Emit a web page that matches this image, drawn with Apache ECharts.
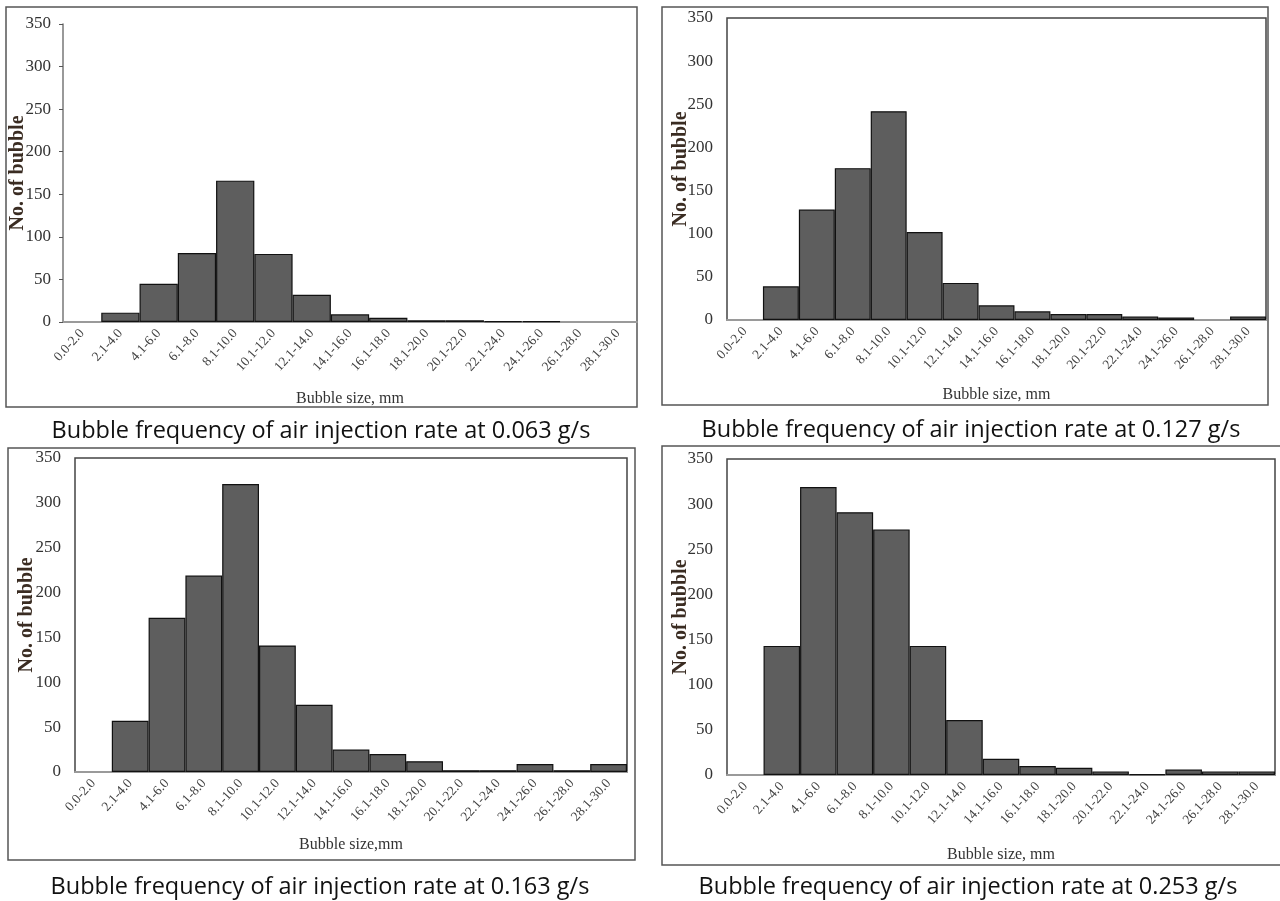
<!DOCTYPE html>
<html>
<head>
<meta charset="utf-8">
<script src="https://cdn.jsdelivr.net/npm/echarts@6/dist/echarts.min.js"></script>
<style>
html,body{margin:0;padding:0;background:#fff;}
#c{width:1280px;height:901px;}
</style>
</head>
<body>
<div id="c"></div>
<script>
const categories = ['0.0-2.0','2.1-4.0','4.1-6.0','6.1-8.0','8.1-10.0','10.1-12.0','12.1-14.0','14.1-16.0','16.1-18.0','18.1-20.0','20.1-22.0','22.1-24.0','24.1-26.0','26.1-28.0','28.1-30.0'];
const rate063 = [0,11,45,81,166,80,32,9,5,2,2,1,1,0,0];
const rate127 = [0,39,128,176,242,102,43,17,10,7,7,4,3,0,4];
const rate163 = [0,57,172,219,321,141,75,25,20,12,2,2,9,2,9];
const rate253 = [0,143,319,291,272,143,61,18,10,8,4,1,6,4,4];
const captions = [
  'Bubble frequency of air injection rate at 0.063 g/s',
  'Bubble frequency of air injection rate at 0.127 g/s',
  'Bubble frequency of air injection rate at 0.163 g/s',
  'Bubble frequency of air injection rate at 0.253 g/s'
];
const xNames = ['Bubble size, mm','Bubble size, mm','Bubble size,mm','Bubble size, mm'];
const yName = 'No. of bubble';
const seriesData = [rate063, rate127, rate163, rate253];

const grids = [
  {left:63, top:24, width:574, height:298, show:false},
  {left:727, top:18, width:539, height:302, show:true, borderColor:'#444', borderWidth:1.5},
  {left:75, top:458, width:552, height:314, show:true, borderColor:'#444', borderWidth:1.5},
  {left:727, top:459, width:548, height:316, show:true, borderColor:'#444', borderWidth:1.5}
];
const xGaps = [69,67,65,72];
const yGaps = [35,36,38,36];
const serif = 'Liberation Serif, Times New Roman, serif';

const xAxes = grids.map((g,i)=>({
  type:'category', gridIndex:i, data:categories, boundaryGap:true,
  axisLine:{show:true, lineStyle:{color:'#9a9a9a', width:2}},
  axisTick:{show:false},
  axisLabel:{interval:0, rotate:48, fontFamily:serif, fontSize:13.5, color:'#444', margin:9},
  name:xNames[i], nameLocation:'middle', nameGap:xGaps[i], nameMoveOverlap:false,
  nameTextStyle:{fontFamily:serif, fontSize:16, color:'#333'}
}));
const yAxes = grids.map((g,i)=>({
  type:'value', gridIndex:i, min:0, max:350, interval:50,
  axisLine:{show:i===0, lineStyle:{color:'#777', width:1.5}},
  axisTick:{show:i===0, length:4, lineStyle:{color:'#555'}},
  splitLine:{show:false},
  axisLabel:{fontFamily:serif, fontSize:17, color:'#333', margin:i===0?12:14},
  name:yName, nameLocation:'middle', nameGap:yGaps[i], nameMoveOverlap:false,
  nameTextStyle:{fontFamily:serif, fontSize:20, fontWeight:'bold', color:'#3a2c22'}
}));
const series = seriesData.map((arr,i)=>({
  type:'bar', xAxisIndex:i, yAxisIndex:i, barCategoryGap:'0%',
  data: arr.map(v=>({value:v, itemStyle:{borderWidth: v===0?0:1.2}})),
  itemStyle:{color:'#5e5e5e', borderColor:'#111'},
  animation:false, silent:true
}));

const boxes = [
  {x:6, y:7, w:631, h:400},
  {x:662, y:7, w:606, h:398},
  {x:8, y:448, w:627, h:412},
  {x:662, y:446, w:630, h:419}
];
const capPos = [[321,431],[971,430],[320,887],[968,887]];
const graphic = [];
boxes.forEach(b=>graphic.push({type:'rect', shape:{x:b.x,y:b.y,width:b.w,height:b.h}, style:{fill:'none', stroke:'#555', lineWidth:1.5}, z:-1}));
captions.forEach((t,i)=>graphic.push({type:'text', x:capPos[i][0], y:capPos[i][1], style:{text:t, fill:'#111', font:'23.5px "Open Sans", Lato, sans-serif', textAlign:'center', textVerticalAlign:'middle'}}));

const chart = echarts.init(document.getElementById('c'), null, {renderer:'canvas'});
chart.setOption({
  animation:false,
  grid:grids, xAxis:xAxes, yAxis:yAxes, series:series, graphic:graphic
});
</script>
</body>
</html>
